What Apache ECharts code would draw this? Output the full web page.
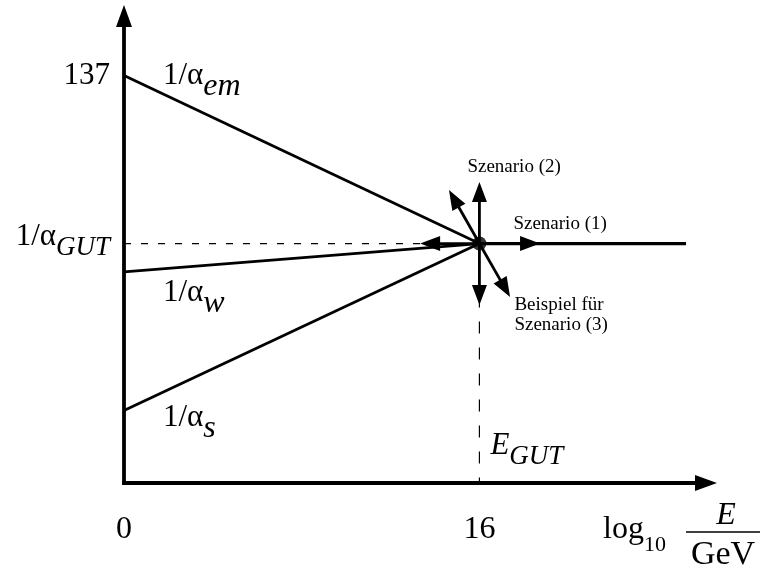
<!DOCTYPE html>
<html>
<head>
<meta charset="utf-8">
<script src="https://cdn.jsdelivr.net/npm/echarts@6/dist/echarts.min.js"></script>
<style>
  html, body { margin: 0; padding: 0; background: #fff; }
  #chart { width: 760px; height: 568px; }
</style>
</head>
<body>
<div id="chart"></div>
<script>
// Schematic running of the inverse gauge couplings against log10(E/GeV)
const xTicks = [0, 16];
const energyRange = [0, 26.2];
const invAlphaRange = [0, 157];
const logEGut = 16;
const logEEnd = 25.3;
const invAlphaGut = 80.5;
const invAlphaEm = [137, invAlphaGut];   // at log E = 0 and at E_GUT
const invAlphaW = [71, invAlphaGut];
const invAlphaS = [24.4, invAlphaGut];
const yTicks = [invAlphaGut, 137];
// tips of the scenario arrows drawn out of the unification point
const arrowTips = [
  [16, 101.2], [14.63, 98.5], [13.33, 80.5],
  [18.73, 80.5], [17.38, 62.5], [16, 59.8]
];

const FONT = 'Liberation Serif';
const INK = '#000';

const mainRich = {
  n: { fontFamily: FONT, fontSize: 31, color: INK },
  m: { fontFamily: FONT, fontSize: 31, color: INK, padding: [0, 0, 14, 0] },
  g: { fontFamily: FONT, fontSize: 27, fontStyle: 'italic', color: INK, padding: [8, 0, 0, 0] }
};

const chart = echarts.init(document.getElementById('chart'), null, { renderer: 'canvas' });

const thinLine = (name, pts, width, type) => ({
  name, type: 'line', data: pts, showSymbol: false, silent: true,
  lineStyle: { color: INK, width, type: type || 'solid' }, z: 3
});

chart.setOption({
  animation: false,
  backgroundColor: '#fff',
  grid: { left: 124, right: 54, top: 16, bottom: 85, containLabel: false, outerBoundsMode: 'none' },
  xAxis: {
    type: 'value', min: energyRange[0], max: energyRange[1],
    axisLine: {
      show: true, symbol: ['none', 'triangle'], symbolSize: [16, 22],
      lineStyle: { color: INK, width: 3.8, cap: 'square' }
    },
    axisTick: { show: false },
    splitLine: { show: false },
    axisLabel: {
      customValues: xTicks, margin: 31,
      fontFamily: FONT, fontSize: 32, color: INK
    }
  },
  yAxis: {
    type: 'value', min: invAlphaRange[0], max: invAlphaRange[1],
    axisLine: {
      show: true, symbol: ['none', 'triangle'], symbolSize: [16, 22],
      lineStyle: { color: INK, width: 3.8, cap: 'square' }
    },
    axisTick: { show: false },
    splitLine: { show: false },
    axisLabel: {
      customValues: yTicks, margin: 14,
      formatter: v => (v === invAlphaGut ? '{m|1/α}{g|GUT}' : '{n|' + v + '}'),
      rich: mainRich
    }
  },
  series: [
    thinLine('alphaEm', [[xTicks[0], invAlphaEm[0]], [logEGut, invAlphaEm[1]]], 2.8),
    thinLine('alphaW', [[xTicks[0], invAlphaW[0]], [logEGut, invAlphaW[1]]], 2.8),
    thinLine('alphaS', [[xTicks[0], invAlphaS[0]], [logEGut, invAlphaS[1]]], 2.8),
    thinLine('alphaGut', [[logEGut, invAlphaGut], [logEEnd, invAlphaGut]], 3.2),
    thinLine('gutLevel', [[xTicks[0], invAlphaGut], [logEGut, invAlphaGut]], 1.2, [7, 10]),
    thinLine('gutEnergy', [[logEGut, invAlphaGut], [logEGut, 0]], 1.2, [12, 14]),
    {
      name: 'scenarios', type: 'custom', silent: true, z: 4,
      data: arrowTips,
      renderItem(params, api) {
        const p0 = api.coord([logEGut, invAlphaGut]);
        const p1 = api.coord([api.value(0), api.value(1)]);
        const dx = p1[0] - p0[0], dy = p1[1] - p0[1];
        const len = Math.hypot(dx, dy);
        const ux = dx / len, uy = dy / len;
        const headLen = 20, headW = 15;
        const bx = p1[0] - ux * headLen, by = p1[1] - uy * headLen;
        return {
          type: 'group',
          children: [
            { type: 'line', shape: { x1: p0[0], y1: p0[1], x2: bx + ux, y2: by + uy },
              style: { stroke: INK, lineWidth: 2.8 } },
            { type: 'polygon',
              shape: { points: [p1, [bx - uy * headW / 2, by + ux * headW / 2], [bx + uy * headW / 2, by - ux * headW / 2]] },
              style: { fill: INK } }
          ]
        };
      }
    },
    {
      name: 'unification', type: 'scatter', silent: true, z: 5,
      data: [[logEGut, invAlphaGut]], symbol: 'circle', symbolSize: 14,
      itemStyle: { color: INK }
    }
  ]
});

// annotations anchored to data positions
const px = v => chart.convertToPixel({ gridIndex: 0 }, v);
const lineRich = {
  m: { fontFamily: FONT, fontSize: 31, fill: INK, padding: [0, 0, 14, 0] },
  mi: { fontFamily: FONT, fontSize: 31, fontStyle: 'italic', fill: INK, padding: [0, 0, 14, 0] },
  s: { fontFamily: FONT, fontSize: 32, fontStyle: 'italic', fill: INK, padding: [8, 0, 0, 0] },
  g: { fontFamily: FONT, fontSize: 27, fontStyle: 'italic', fill: INK, padding: [8, 0, 0, 0] },
  lg: { fontFamily: FONT, fontSize: 32, fill: INK, padding: [0, 0, 14, 0] },
  ten: { fontFamily: FONT, fontSize: 22, fill: INK, padding: [16, 0, 0, 0] }
};
const richText = (pos, text, align) => ({
  type: 'text', x: pos[0], y: pos[1], silent: true,
  style: { text, rich: lineRich, align: align || 'left', verticalAlign: 'middle' }
});
const smallText = (pos, text) => ({
  type: 'text', x: pos[0], y: pos[1], silent: true,
  style: { text, fontFamily: FONT, fontSize: 19, lineHeight: 20, fill: INK, align: 'left', verticalAlign: 'top' }
});

const pEm = px([xTicks[0], invAlphaEm[0]]);
const pW = px([xTicks[0], invAlphaW[0]]);
const pS = px([xTicks[0], invAlphaS[0]]);
const pGut = px([logEGut, invAlphaGut]);
const pBase = px([logEGut, 0]);
const pEnd = px([energyRange[1], 0]);

chart.setOption({
  graphic: [
    richText([pEm[0] + 39, pEm[1] + 7], '{m|1/α}{s|em}'),
    richText([pW[0] + 39, pW[1] + 28], '{m|1/α}{s|w}'),
    richText([pS[0] + 39, pS[1] + 14], '{m|1/α}{s|s}'),
    richText([pBase[0] + 11, pBase[1] - 30], '{mi|E}{g|GUT}'),
    smallText([pGut[0] - 12, pGut[1] - 87], 'Szenario (2)'),
    smallText([pGut[0] + 34, pGut[1] - 30], 'Szenario (1)'),
    smallText([pGut[0] + 35, pGut[1] + 51], 'Beispiel für\nSzenario (3)'),
    // axis title: log10 E / GeV
    richText([pEnd[0] - 103, pEnd[1] + 54], '{lg|log}{ten|10}'),
    { type: 'text', x: pEnd[0] + 20, y: pEnd[1] + 33, silent: true,
      style: { text: 'E', fontFamily: FONT, fontSize: 32, fontStyle: 'italic', fill: INK, align: 'center', verticalAlign: 'middle' } },
    { type: 'line', silent: true,
      shape: { x1: pEnd[0] - 20, y1: pEnd[1] + 49, x2: pEnd[0] + 54, y2: pEnd[1] + 49 },
      style: { stroke: INK, lineWidth: 1.5 } },
    { type: 'text', x: pEnd[0] + 17, y: pEnd[1] + 72, silent: true,
      style: { text: 'GeV', fontFamily: FONT, fontSize: 34, fill: INK, align: 'center', verticalAlign: 'middle' } }
  ]
});
</script>
</body>
</html>
